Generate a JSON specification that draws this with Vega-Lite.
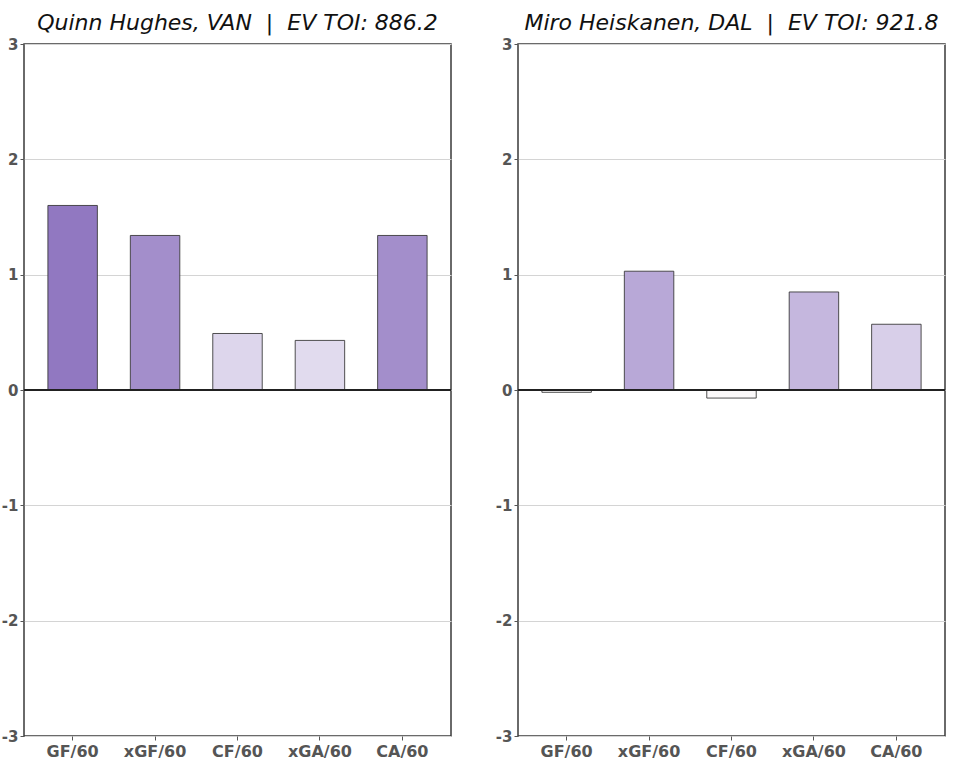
{
  "$schema": "https://vega.github.io/schema/vega-lite/v6.json",
  "background": "white",
  "padding": {"left": 0, "top": 12, "right": 10, "bottom": 5},
  "config": {
    "font": "DejaVu Sans",
    "view": {"stroke": "#3a3a3a", "strokeWidth": 1.5},
    "axis": {"labelFont": "DejaVu Sans", "labelFontWeight": "bold", "labelColor": "#555555", "labelFontSize": 15, "tickColor": "#555555", "domain": false}
  },
  "data": {"values": [
    {"panel": "Quinn Hughes, VAN \u00a0|\u00a0 EV TOI: 886.2", "metric": "GF/60", "value": 1.60},
    {"panel": "Quinn Hughes, VAN \u00a0|\u00a0 EV TOI: 886.2", "metric": "xGF/60", "value": 1.34},
    {"panel": "Quinn Hughes, VAN \u00a0|\u00a0 EV TOI: 886.2", "metric": "CF/60", "value": 0.49},
    {"panel": "Quinn Hughes, VAN \u00a0|\u00a0 EV TOI: 886.2", "metric": "xGA/60", "value": 0.43},
    {"panel": "Quinn Hughes, VAN \u00a0|\u00a0 EV TOI: 886.2", "metric": "CA/60", "value": 1.34},
    {"panel": "Miro Heiskanen, DAL \u00a0|\u00a0 EV TOI: 921.8", "metric": "GF/60", "value": -0.02},
    {"panel": "Miro Heiskanen, DAL \u00a0|\u00a0 EV TOI: 921.8", "metric": "xGF/60", "value": 1.03},
    {"panel": "Miro Heiskanen, DAL \u00a0|\u00a0 EV TOI: 921.8", "metric": "CF/60", "value": -0.07},
    {"panel": "Miro Heiskanen, DAL \u00a0|\u00a0 EV TOI: 921.8", "metric": "xGA/60", "value": 0.85},
    {"panel": "Miro Heiskanen, DAL \u00a0|\u00a0 EV TOI: 921.8", "metric": "CA/60", "value": 0.57}
  ]},
  "facet": {
    "column": {
      "field": "panel", "type": "nominal",
      "sort": ["Quinn Hughes, VAN \u00a0|\u00a0 EV TOI: 886.2", "Miro Heiskanen, DAL \u00a0|\u00a0 EV TOI: 921.8"],
      "title": null,
      "header": {"labelFont": "DejaVu Sans", "labelFontStyle": "italic", "labelFontSize": 22, "labelColor": "#111111", "labelPadding": 1}
    }
  },
  "spacing": 41,
  "resolve": {"axis": {"y": "independent", "x": "independent"}},
  "spec": {
    "width": 427,
    "height": 692,
    "layer": [
      {
        "mark": {"type": "bar", "stroke": "#333333", "strokeWidth": 1, "strokeOpacity": 0.85},
        "encoding": {
          "x": {"field": "metric", "type": "nominal", "sort": ["GF/60", "xGF/60", "CF/60", "xGA/60", "CA/60"],
                "scale": {"paddingInner": 0.4, "paddingOuter": 0.29},
                "axis": {"title": null, "labelAngle": 0, "labelFontSize": 16, "tickSize": 4, "labelPadding": 3}},
          "y": {"field": "value", "type": "quantitative",
                "scale": {"domain": [-3, 3], "nice": false},
                "axis": {"title": null, "values": [-3, -2, -1, 0, 1, 2, 3], "labelExpr": "datum.value < 0 ? '-' + abs(datum.value) : '' + datum.value", "gridColor": "#d4d4d4", "gridWidth": 1, "tickSize": 4, "labelPadding": 2}},
          "color": {"field": "value", "type": "quantitative", "legend": null,
                    "scale": {"domain": [-3, 0, 3], "range": ["#67001f", "#ffffff", "#31028b"], "interpolate": "rgb"}}
        }
      },
      {
        "mark": {"type": "rule", "color": "#222222", "strokeWidth": 1.5},
        "encoding": {"y": {"datum": 0, "type": "quantitative"}}
      }
    ]
  }
}
